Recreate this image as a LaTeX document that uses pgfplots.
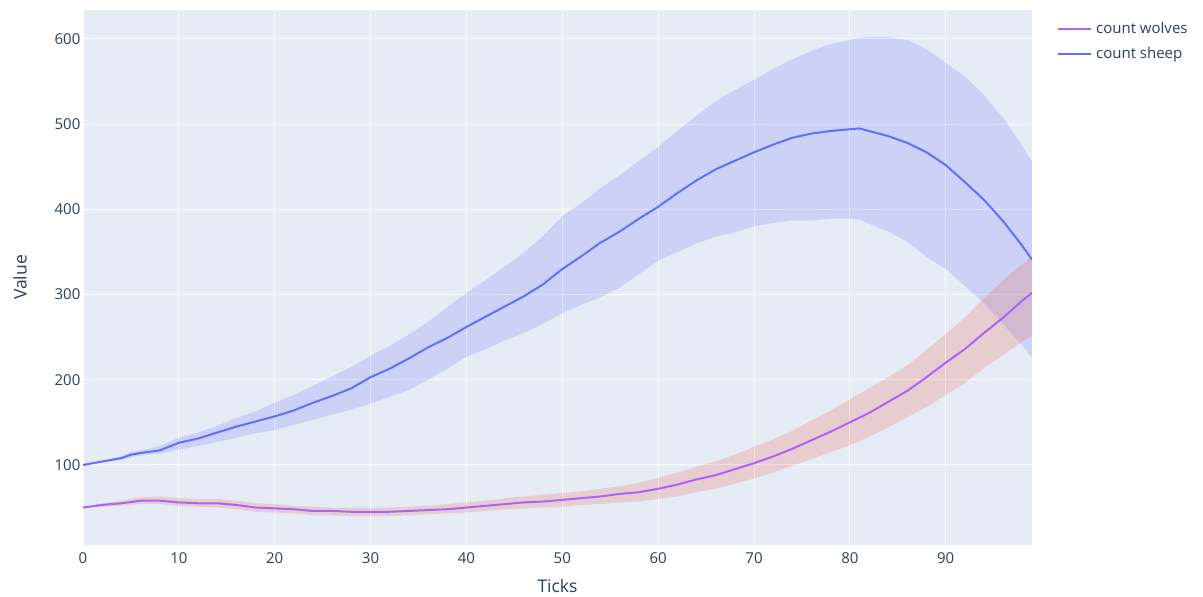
\documentclass[border=0pt]{standalone}
\usepackage{pgfplots}
\pgfplotsset{compat=1.18}
\usepackage{pgfplotstable}
\usepgfplotslibrary{fillbetween}
\usepackage{fontspec}
\setmainfont{Open Sans}
\definecolor{bgc}{HTML}{E5ECF6}
\definecolor{txt}{HTML}{2A3F5F}
\definecolor{sheep}{HTML}{636EFA}
\definecolor{wolf}{HTML}{AB63FA}
\definecolor{wolfband}{HTML}{EF553B}

\pgfplotstableread{
x m u l
0 100 100 100
2 104 105 103
4 108 110 106
5 112 115 109
6 114 117 111
8 117 122 113
10 126 132 118
12 131 138 122
14 138 146 127
16 145 155 132
18 151 163 137
20 157 173 141
22 164 182 147
24 173 193 153
26 181 204 159
28 190 215 165
30 203 228 172
32 213 240 180
34 225 253 188
36 238 268 200
38 249 285 213
40 262 302 227
42 274 317 236
44 286 333 246
46 298 349 255
48 312 369 266
50 330 392 278
52 345 407 288
54 361 425 297
56 374 440 308
58 389 457 324
60 403 473 340
62 419 492 350
64 434 510 360
66 447 527 368
68 457 540 373
70 467 552 380
72 476 565 384
74 484 576 387
76 489 586 387
78 492 594 389
80 494 599 389
81 495 601 388
82 492 602 383
84 486 602 374
86 478 599 362
88 467 588 344
90 452 572 330
92 432 556 310
94 411 534 290
96 386 507 265
98 357 474 240
99 341 456 226
}\sheeptab

\pgfplotstableread{
x m u l
0 50 50 50
2 53 55 51
4 55 58 52
6 58 62 54
8 58 63 54
10 56 61 52
12 55 60 51
14 55 60 50
16 53 58 48
18 50 55 45
20 49 54 44
22 48 52 43
24 46 51 41
26 46 50 41
28 45 50 40
30 45 50 40
32 45 50 40
34 46 51 41
36 47 52 42
38 48 54 43
40 50 56 44
42 52 58 46
44 54 61 48
46 56 63 49
48 57 65 50
50 59 67 51
52 61 69 53
54 63 72 54
56 66 75 56
58 68 79 57
60 72 85 60
62 77 91 63
64 83 98 68
66 88 104 72
68 95 112 78
70 102 121 84
72 110 130 91
74 119 140 99
76 129 152 107
78 139 164 115
80 150 177 123
82 161 190 133
84 174 203 144
86 187 217 156
88 203 235 168
90 220 254 182
92 236 273 196
94 255 296 214
96 273 317 229
98 293 336 245
99 302 345 252
}\wolftab

\begin{document}
\begin{tikzpicture}
\begin{axis}[
  at={(0pt,0pt)}, anchor=south west,
  scale only axis, width=474.5pt, height=267.5pt,
  xmin=0, xmax=99, ymin=6, ymax=634,
  xtick={0,10,...,90}, ytick={100,200,...,600},
  axis line style={draw=none},
  major tick length=0pt,
  grid=major, grid style={white, line width=0.5pt},
  axis background/.style={fill=bgc},
  /pgf/number format/assume math mode=true,
  ticklabel style={font=\fontsize{7.5}{9}\selectfont, text=txt},
  xticklabel style={yshift=-0.5pt},
  yticklabel style={xshift=2.2pt},
  xlabel={Ticks}, ylabel={Value},
  every axis x label/.style={at={(axis description cs:0.5,0)}, anchor=center, yshift=-20.5pt, font=\fontsize{8.75}{10}\selectfont, text=txt},
  every axis y label/.style={at={(axis description cs:-0.0664,0.5)}, anchor=center, rotate=90, font=\fontsize{8.75}{10}\selectfont, text=txt},
  legend style={at={(1.024,0.99)}, anchor=north west, draw=none, fill=none,
    font=\fontsize{7.5}{9}\selectfont, text=txt, row sep=1.5pt, inner sep=1pt,
    /tikz/every even column/.append style={column sep=2pt}},
  legend cell align=left,
  legend image code/.code={\draw[#1, line width=1pt] (0pt,0pt) -- (16.5pt,0pt);},
]
\addplot[draw=none, name path=su, forget plot] table[x=x,y=u] {\sheeptab};
\addplot[draw=none, name path=sl, forget plot] table[x=x,y=l] {\sheeptab};
\addplot[fill=sheep, fill opacity=0.2, draw=none, forget plot] fill between[of=su and sl];
\addplot[draw=none, name path=wu, forget plot] table[x=x,y=u] {\wolftab};
\addplot[draw=none, name path=wl, forget plot] table[x=x,y=l] {\wolftab};
\addplot[fill=wolfband, fill opacity=0.2, draw=none, forget plot] fill between[of=wu and wl];
\addplot[wolf, line width=1pt, line join=round] table[x=x,y=m] {\wolftab};
\addlegendentry{count wolves}
\addplot[sheep, line width=1pt, line join=round] table[x=x,y=m] {\sheeptab};
\addlegendentry{count sheep}
\end{axis}
\pgfresetboundingbox
\path[use as bounding box] (-41.5pt,-25.5pt) rectangle (560pt,272.5pt);
\end{tikzpicture}
\end{document}
